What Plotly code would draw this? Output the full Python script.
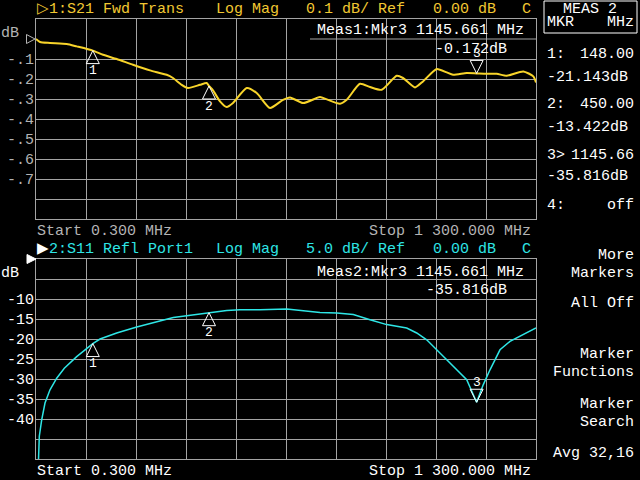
import plotly.graph_objects as go

# ---------------- data ----------------
f_start, f_stop = 0.3, 1300.0

s21_freq = [0.3, 10.7, 36.7, 80.1, 106.1, 148.0, 174.5, 210.1, 252.4, 296.6, 340.0, 356.4,
            379.0, 395.4, 426.6, 444.0, 450.0, 460.4, 478.6, 496.0, 512.4, 548.0, 574.0,
            608.6, 642.4, 660.6, 694.4, 730.0, 738.5, 790.5, 807.9, 842.5, 868.5, 898.9,
            937.9, 954.3, 985.5, 1006.3, 1041.9, 1067.9, 1084.3, 1119.9, 1145.661, 1171.9,
            1197.9, 1223.8, 1267.0, 1293.0, 1300.0]
s21_db = [0.0, -0.015, -0.020, -0.025, -0.037, -0.058, -0.079, -0.100, -0.129, -0.157, -0.179,
          -0.195, -0.229, -0.245, -0.229, -0.220, -0.235, -0.257, -0.312, -0.340, -0.320,
          -0.245, -0.270, -0.345, -0.304, -0.292, -0.320, -0.295, -0.290, -0.324, -0.304,
          -0.224, -0.240, -0.254, -0.184, -0.195, -0.242, -0.212, -0.150, -0.167, -0.179,
          -0.170, -0.172, -0.174, -0.174, -0.184, -0.162, -0.187, -0.217]

s11_freq = [0.3, 6.8, 8.9, 15.1, 23.7, 36.7, 54.1, 73.9, 106.1, 148.0, 166.7, 210.1, 262.1,
            314.0, 357.2, 392.0, 450.0, 496.0, 530.6, 582.6, 652.0, 686.6, 738.5, 781.9,
            825.1, 868.5, 911.9, 963.9, 989.9, 1015.9, 1041.9, 1067.9, 1093.9, 1119.9,
            1145.661, 1163.0, 1180.4, 1206.4, 1232.4, 1267.0, 1300.0]
s11_db = [-50.3, -50.3, -44.3, -40.2, -36.0, -32.7, -29.8, -27.3, -24.4, -21.143, -20.0,
          -18.5, -17.0, -15.6, -14.6, -14.2, -13.422, -12.85, -12.7, -12.7, -12.5, -12.85,
          -13.35, -13.5, -13.9, -15.2, -16.4, -17.25, -18.5, -20.2, -22.7, -25.2, -27.7,
          -30.2, -35.816, -31.4, -27.7, -22.7, -20.6, -18.9, -17.25]

mkr_freq = [148.0, 450.0, 1145.661]
mkr_s21 = [-0.058, -0.235, -0.172]
mkr_s11 = [-21.143, -13.422, -35.816]
mkr_dir = ["up", "up", "down"]

top_ticks = [-0.1, -0.2, -0.3, -0.4, -0.5, -0.6, -0.7]
top_ticktext = ["-.1", "-.2", "-.3", "-.4", "-.5", "-.6", "-.7"]
bot_ticks = [-10, -15, -20, -25, -30, -35, -40]
bot_ticktext = ["-10", "-15", "-20", "-25", "-30", "-35", "-40"]

# ---------------- style ----------------
FONT = "Liberation Mono"
FS = 15
YEL_T = "#f2c832"
YEL = "#f8d42a"
CYAN = "#2ee6e6"
GRID = "#a4a4a4"
GRAY_TXT = "#b4b4b4"
WHITE = "#ffffff"


def PX(x):
    return (x - 36) / 500.0


def PY(y):
    return (459 - y) / 440.0


def txt(x, y, s, color, anchor="left", size=FS):
    return dict(x=PX(x), y=PY(y), xref="paper", yref="paper", text=s, showarrow=False,
                xanchor=anchor, yanchor="middle", borderpad=0,
                font=dict(family=FONT, size=size, color=color))


fig = go.Figure()
fig.add_trace(go.Scatter(x=s21_freq, y=s21_db, xaxis="x2", yaxis="y2", mode="lines",
                         line=dict(color=YEL, width=2, shape="spline", smoothing=0.6),
                         hoverinfo="skip", showlegend=False))
fig.add_trace(go.Scatter(x=s11_freq, y=s11_db, xaxis="x", yaxis="y", mode="lines",
                         line=dict(color=CYAN, width=1.5), hoverinfo="skip", showlegend=False))

xcommon = dict(range=[f_start, f_stop], tick0=f_start, dtick=(f_stop - f_start) / 10,
               showticklabels=False, ticks="", showgrid=True, gridcolor=GRID, gridwidth=1,
               zeroline=False, showline=True, linecolor=GRID, linewidth=1, mirror=True,
               fixedrange=True)
ycommon = dict(showticklabels=False, ticks="", showgrid=True, gridcolor=GRID, gridwidth=1,
               zeroline=False, showline=True, linecolor=GRID, linewidth=1, mirror=True,
               fixedrange=True)

top_grid = [round(0.1 - 0.1 * i, 2) for i in range(11) if i != 1]

fig.update_layout(
    width=640, height=480,
    margin=dict(l=36, r=104, t=19, b=21),
    paper_bgcolor="black", plot_bgcolor="black",
    showlegend=False,
    xaxis=dict(**xcommon, domain=[0, 1], anchor="y"),
    xaxis2=dict(**xcommon, domain=[0, 1], anchor="y2"),
    yaxis=dict(**ycommon, range=[-50, 0], tick0=0, dtick=5, domain=[0, 200 / 440], anchor="x"),
    yaxis2=dict(**ycommon, range=[-0.9, 0.1], tickvals=top_grid, domain=[240 / 440, 1],
                anchor="x2"),
)

shapes = []
ann = []

# partial reference line in top panel (readout box area)
shapes.append(dict(type="line", xref="paper", yref="y2", x0=PX(310), x1=1, y0=0, y1=0,
                   line=dict(color=GRID, width=1)))

# reference position indicators
shapes.append(dict(type="path", xref="paper", yref="paper",
                   path=f"M{PX(26.5)},{PY(34.5)} L{PX(35)},{PY(39)} L{PX(26.5)},{PY(43.5)} Z",
                   line=dict(color=GRAY_TXT, width=1), fillcolor="rgba(0,0,0,0)"))
shapes.append(dict(type="path", xref="paper", yref="paper",
                   path=f"M{PX(27)},{PY(254.5)} L{PX(36)},{PY(259)} L{PX(27)},{PY(263.5)} Z",
                   line=dict(color=WHITE, width=1), fillcolor=WHITE))

# MEAS 2 box
shapes.append(dict(type="rect", xref="paper", yref="paper", x0=PX(544), x1=PX(637),
                   y0=PY(1), y1=PY(33), line=dict(color=WHITE, width=1)))

# markers
for i, f in enumerate(mkr_freq):
    for xr, yr, val in (("x2", "y2", mkr_s21[i]), ("x", "y", mkr_s11[i])):
        if mkr_dir[i] == "up":
            path = "M0,0 L-6.5,-13 L6.5,-13 Z"
            shift = -20
        else:
            path = "M0,0 L-6.5,13 L6.5,13 Z"
            shift = 20
        shapes.append(dict(type="path", xref=xr, yref=yr, xsizemode="pixel",
                           ysizemode="pixel", xanchor=f, yanchor=val, path=path,
                           line=dict(color=WHITE, width=1), fillcolor="rgba(0,0,0,0)"))
        ann.append(dict(x=f, y=val, xref=xr, yref=yr, text=str(i + 1), showarrow=False,
                        xanchor="center", yanchor="middle", yshift=shift, borderpad=0,
                        font=dict(family=FONT, size=13, color=WHITE)))

# y tick labels
for v, t in zip(top_ticks, top_ticktext):
    ann.append(dict(x=PX(35), y=v, xref="paper", yref="y2", text=t, showarrow=False,
                    xanchor="right", yanchor="middle", yshift=-1, borderpad=0,
                    font=dict(family=FONT, size=FS, color=GRAY_TXT)))
for v, t in zip(bot_ticks, bot_ticktext):
    ann.append(dict(x=PX(35), y=v, xref="paper", yref="y", text=t, showarrow=False,
                    xanchor="right", yanchor="middle", yshift=-1, borderpad=0,
                    font=dict(family=FONT, size=FS, color=WHITE)))
ann.append(txt(0, 34, "dB", GRAY_TXT))
ann.append(txt(0, 273, "dB", WHITE))

# headers
ann.append(txt(36, 10, "▷1:S21 Fwd Trans", YEL_T))
ann.append(txt(215, 10, "Log Mag", YEL_T))
ann.append(txt(305, 10, "0.1 dB/ Ref", YEL_T))
ann.append(txt(432, 10, "0.00 dB", YEL_T))
ann.append(txt(521, 10, "C", YEL_T))
ann.append(txt(36, 249, "<span style='color:white'>▶</span>2:S11 Refl Port1", CYAN))
ann.append(txt(215, 249, "Log Mag", CYAN))
ann.append(txt(305, 249, "5.0 dB/ Ref", CYAN))
ann.append(txt(432, 249, "0.00 dB", CYAN))
ann.append(txt(521, 249, "C", CYAN))

# start / stop
ann.append(txt(36, 231, "Start 0.300 MHz", GRAY_TXT))
ann.append(txt(532, 231, "Stop 1 300.000 MHz", GRAY_TXT, "right"))
ann.append(txt(36, 471, "Start 0.300 MHz", WHITE))
ann.append(txt(532, 471, "Stop 1 300.000 MHz", WHITE, "right"))

# marker readouts
ann.append(txt(525, 30, "Meas1:Mkr3 1145.661 MHz", WHITE, "right"))
ann.append(txt(508, 50, "%.3fdB" % mkr_s21[2], WHITE, "right"))
ann.append(txt(525, 272, "Meas2:Mkr3 1145.661 MHz", WHITE, "right"))
ann.append(txt(508, 290, "%.3fdB" % mkr_s11[2], WHITE, "right"))

# right panel
ann.append(txt(590, 10, "MEAS 2", WHITE, "center"))
ann.append(txt(546, 23, "MKR", WHITE))
ann.append(txt(635, 23, "MHz", WHITE, "right"))
ann.append(txt(546, 55, "1:", WHITE))
ann.append(txt(635, 55, "%.2f" % mkr_freq[0], WHITE, "right"))
ann.append(txt(546, 77, "%.3fdB" % mkr_s11[0], WHITE))
ann.append(txt(546, 105, "2:", WHITE))
ann.append(txt(635, 105, "%.2f" % mkr_freq[1], WHITE, "right"))
ann.append(txt(546, 127, "%.3fdB" % mkr_s11[1], WHITE))
ann.append(txt(546, 155, "3>", WHITE))
ann.append(txt(635, 155, "%.2f" % mkr_freq[2], WHITE, "right"))
ann.append(txt(546, 176, "%.3fdB" % mkr_s11[2], WHITE))
ann.append(txt(546, 205, "4:", WHITE))
ann.append(txt(635, 205, "off", WHITE, "right"))

soft = [("More", 255), ("Markers", 273), ("All Off", 303), ("Marker", 354),
        ("Functions", 372), ("Marker", 404), ("Search", 422), ("Avg 32,16", 453)]
for s, y in soft:
    ann.append(txt(635, y, s, WHITE, "right"))

fig.update_layout(shapes=shapes, annotations=ann)
fig.write_html("out.html",
               config={"displayModeBar": False, "staticPlot": True},
               post_script="document.body.style.margin='0';document.body.style.overflow='hidden';document.body.style.background='black';")
